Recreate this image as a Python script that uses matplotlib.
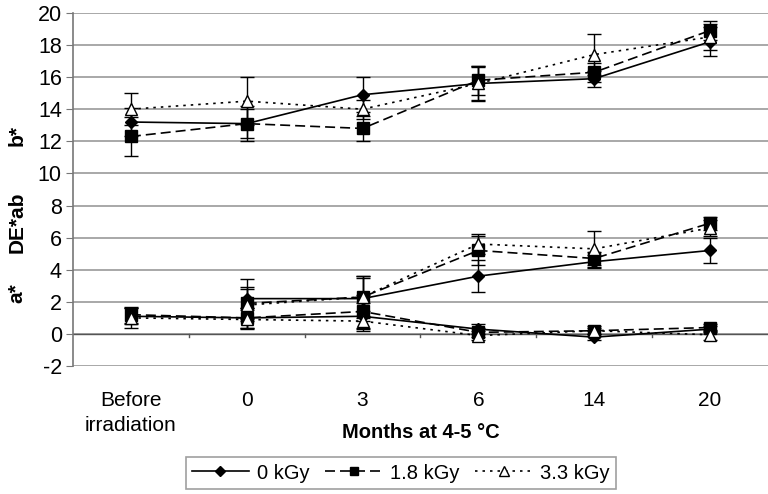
import numpy as np
import matplotlib.pyplot as plt

plt.rcParams['font.family'] = ['Liberation Sans', 'DejaVu Sans']
plt.rcParams['axes.unicode_minus'] = False

categories = ["Before\nirradiation", "0", "3", "6", "14", "20"]
doses = ["0 kGy", "1.8 kGy", "3.3 kGy"]

# b* values
b_0 = [13.2, 13.1, 14.9, 15.6, 15.9, 18.2]
b_18 = [12.3, 13.1, 12.8, 15.8, 16.3, 18.9]
b_33 = [14.0, 14.5, 14.0, 15.6, 17.4, 18.5]
b_err_0 = [0.9, 0.9, 1.1, 1.0, 0.5, 0.9]
b_err_18 = [1.2, 1.1, 0.8, 0.9, 0.6, 0.6]
b_err_33 = [1.0, 1.5, 0.6, 1.1, 1.3, 0.8]

# DE*ab values (no value before irradiation)
de_0 = [np.nan, 2.2, 2.2, 3.6, 4.5, 5.2]
de_18 = [np.nan, 1.9, 2.3, 5.2, 4.7, 6.9]
de_33 = [np.nan, 1.8, 2.3, 5.6, 5.3, 6.6]
de_err_0 = [0, 1.2, 1.4, 1.0, 0.4, 0.8]
de_err_18 = [0, 1.0, 1.2, 0.9, 0.4, 0.4]
de_err_33 = [0, 1.0, 1.3, 0.6, 1.1, 0.5]

# a* values
a_0 = [1.1, 1.0, 1.1, 0.3, -0.2, 0.3]
a_18 = [1.2, 1.0, 1.4, 0.1, 0.2, 0.4]
a_33 = [1.0, 0.9, 0.8, -0.1, 0.2, -0.05]
a_err_0 = [0.5, 0.6, 0.8, 0.3, 0.2, 0.2]
a_err_18 = [0.5, 0.6, 1.0, 0.3, 0.2, 0.2]
a_err_33 = [0.6, 0.6, 0.6, 0.3, 0.3, 0.3]

styles = {
    "0 kGy": dict(ls="-", marker="D", mfc="black", ms=6),
    "1.8 kGy": dict(ls=(0, (6, 3)), marker="s", mfc="black", ms=8),
    "3.3 kGy": dict(ls=(0, (1.5, 3)), marker="^", mfc="white", ms=9),
}

groups = [
    (b_0, b_18, b_33, b_err_0, b_err_18, b_err_33),
    (de_0, de_18, de_33, de_err_0, de_err_18, de_err_33),
    (a_0, a_18, a_33, a_err_0, a_err_18, a_err_33),
]

fig = plt.figure(figsize=(7.68, 4.94), dpi=100)
ax = fig.add_axes([0.095, 0.259, 0.905, 0.715])
x = np.arange(len(categories))

handles = {}
for g in groups:
    for i, dose in enumerate(doses):
        st = styles[dose]
        ax.errorbar(x, g[i], yerr=g[i + 3], color="black", lw=1.2,
                    ls=st["ls"], marker=st["marker"], mfc=st["mfc"], mec="black",
                    ms=st["ms"], ecolor="black", elinewidth=1, capsize=5, capthick=1,
                    zorder=3)
        h, = ax.plot([], [], color="black", lw=1.2, ls=st["ls"], marker=st["marker"],
                     mfc=st["mfc"], mec="black", ms=st["ms"] * 0.8)
        handles[dose] = h

ax.set_xlim(-0.5, len(categories) - 0.5)
ax.set_ylim(-2, 20)
ax.set_yticks(range(-2, 21, 2))
ax.yaxis.grid(True, color="#999999", lw=1.2)
ax.set_axisbelow(True)
ax.axhline(0, color="#555555", lw=1, zorder=2)
for s in ["top", "right", "bottom"]:
    ax.spines[s].set_visible(False)
ax.spines["left"].set_color("#777777")
ax.spines["left"].set_linewidth(1.2)
ax.tick_params(axis="y", labelsize=15.5, length=5, color="#777777", pad=3)

ax.set_xticks(x)
ax.set_xticklabels(categories, fontsize=15, linespacing=1.4)
ax.tick_params(axis="x", length=0, pad=18)
# small ticks on the zero line between categories
for xm in x[:-1] + 0.5:
    ax.plot([xm, xm], [0, -0.2], color="#555555", lw=1, zorder=2)

ax.set_xlabel("Months at 4-5 °C", fontsize=14.5, fontweight="bold", labelpad=-9)

fig.text(0.022, 0.725, "b*", rotation=90, fontsize=15, fontweight="bold", ha="center", va="center")
fig.text(0.022, 0.551, "DE*ab", rotation=90, fontsize=15, fontweight="bold", ha="center", va="center")
fig.text(0.022, 0.407, "a*", rotation=90, fontsize=15, fontweight="bold", ha="center", va="center")

leg = fig.legend([handles[d] for d in doses], doses, loc="center", ncol=3,
                 bbox_to_anchor=(0.522, 0.0425), fontsize=14.5, frameon=True,
                 fancybox=False, edgecolor="#888888", handlelength=2.8,
                 columnspacing=0.8, handletextpad=0.4, borderpad=0.3)
leg.get_frame().set_linewidth(1.2)

fig.savefig("out.png", dpi=100)
